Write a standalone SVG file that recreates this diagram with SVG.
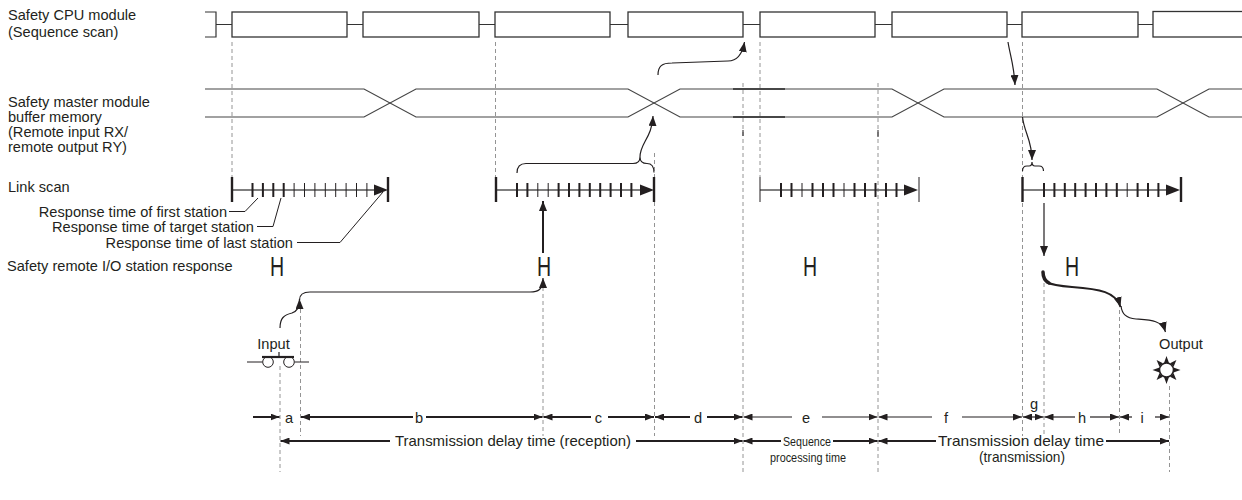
<svg xmlns="http://www.w3.org/2000/svg" width="1242" height="500" viewBox="0 0 1242 500">
<defs>
<style>
text{font-family:"Liberation Sans",Arial,sans-serif;font-size:14.6px;fill:#231f20}
.sm{font-size:13px}
.box{fill:#fff;stroke:#333;stroke-width:1.3}
.ln{fill:none;stroke:#333;stroke-width:1.2}
.bf{fill:none;stroke:#444;stroke-width:1.2}
.dash{fill:none;stroke:#888;stroke-width:0.9;stroke-dasharray:4 3}
.tk{stroke:#231f20;stroke-width:2}
.tn{stroke:#231f20;stroke-width:1}
.big{stroke:#231f20;stroke-width:2.4}
.lsl{stroke:#555;stroke-width:1.3}
.ar{fill:none;stroke:#231f20;stroke-width:1.2}
.arT{fill:none;stroke:#231f20;stroke-width:2}
.dim{fill:none;stroke:#231f20;stroke-width:2}
.dimt{fill:none;stroke:#231f20;stroke-width:1.2}
.lead{fill:none;stroke:#231f20;stroke-width:1}
.hd{fill:#231f20}
.bt{font-size:14.5px}
</style>
<marker id="ah" markerUnits="userSpaceOnUse" markerWidth="10" markerHeight="8" refX="10" refY="4" orient="auto"><path d="M0,0 L10,4 L0,8 z" fill="#231f20"/></marker>
<marker id="dm" markerUnits="userSpaceOnUse" markerWidth="9" markerHeight="7" refX="9" refY="3.5" orient="auto-start-reverse"><path d="M0,0 L9,3.5 L0,7 z" fill="#231f20"/></marker>
</defs>
<rect width="1242" height="500" fill="#fff"/>

<g id="labels">
<text x="8" y="20.3">Safety CPU module</text>
<text x="8" y="36.5">(Sequence scan)</text>
<text x="8" y="107">Safety master module</text>
<text x="8" y="122">buffer memory</text>
<text x="8" y="137">(Remote input RX/</text>
<text x="8" y="152">remote output RY)</text>
<text x="8" y="192">Link scan</text>
<text x="227" y="216.5" text-anchor="end">Response time of first station</text>
<text x="254" y="231.5" text-anchor="end">Response time of target station</text>
<text x="293" y="247.5" text-anchor="end">Response time of last station</text>
<text x="7" y="271">Safety remote I/O station response</text>
</g>

<g id="dashed-guides">
<line class="dash" x1="232" y1="42" x2="232" y2="177"/>
<line class="dash" x1="495.5" y1="42" x2="495.5" y2="177"/>
<line class="dash" x1="760" y1="42" x2="760" y2="177"/>
<line class="dash" x1="1022.5" y1="42" x2="1022.5" y2="436"/>
<line class="dash" x1="743" y1="83" x2="743" y2="472"/>
<line class="dash" x1="878" y1="83" x2="878" y2="472"/>
<line class="dash" x1="654.5" y1="153" x2="654.5" y2="436"/>
<line class="dash" x1="543" y1="280" x2="543" y2="436"/>
<line class="dash" x1="300.5" y1="302" x2="300.5" y2="436"/>
<line class="dash" x1="280" y1="366" x2="280" y2="472"/>
<line class="dash" x1="1044" y1="283" x2="1044" y2="436"/>
<line class="dash" x1="1119.5" y1="310" x2="1119.5" y2="436"/>
<line class="dash" x1="1169.5" y1="386" x2="1169.5" y2="472"/>
<line x1="743" y1="130" x2="743" y2="136" stroke="#231f20" stroke-width="1"/>
<line x1="878" y1="130" x2="878" y2="137" stroke="#231f20" stroke-width="1"/>
</g>

<g id="cpu-scan">
<path class="ln" d="M205,12 H216 V37 H205 M216,24.5 H232 M347,24.5 H363 M479,24.5 H495 M610,24.5 H628 M743,24.5 H760 M875,24.5 H892 M1007,24.5 H1022 M1138,24.5 H1153"/>
<rect class="box" x="232" y="12" width="115" height="25"/>
<rect class="box" x="363" y="12" width="116" height="25"/>
<rect class="box" x="495" y="12" width="115" height="25"/>
<rect class="box" x="628" y="12" width="115" height="25"/>
<rect class="box" x="760" y="12" width="115" height="25"/>
<rect class="box" x="892" y="12" width="115" height="25"/>
<rect class="box" x="1022" y="12" width="116" height="25"/>
<rect class="box" x="1153" y="11.5" width="95" height="25.5"/>
</g>

<g id="buffer-memory">
<path class="bf" d="M205,89 H364 L416,117 H628 L680,89 H892 L944,117 H1157 L1209,89 H1242"/>
<path class="bf" d="M205,117 H364 L416,89 H628 L680,117 H892 L944,89 H1157 L1209,117 H1242"/>
<path d="M733,89 H785 M733,117 H785" stroke="#2a2a2a" stroke-width="1.5" fill="none"/>
</g>

<g id="link-scan-1">
<line class="lsl" x1="232" y1="190" x2="376" y2="190"/>
<line class="big" x1="232" y1="177" x2="232" y2="202"/>
<line class="big" x1="388" y1="177" x2="388" y2="202"/>
<path class="hd" d="M374,184.5 L388,190 L374,195.5 z"/>
<g class="tk"><line x1="252.5" y1="183" x2="252.5" y2="197"/><line x1="262.9" y1="183" x2="262.9" y2="197"/><line x1="273.3" y1="183" x2="273.3" y2="197"/><line x1="283.7" y1="183" x2="283.7" y2="197"/></g>
<g class="tn"><line x1="294.1" y1="183" x2="294.1" y2="197"/><line x1="304.5" y1="183" x2="304.5" y2="197"/><line x1="314.9" y1="183" x2="314.9" y2="197"/><line x1="325.3" y1="183" x2="325.3" y2="197"/><line x1="335.7" y1="183" x2="335.7" y2="197"/><line x1="346.1" y1="183" x2="346.1" y2="197"/><line x1="356.5" y1="183" x2="356.5" y2="197"/><line x1="366.9" y1="183" x2="366.9" y2="197"/></g>
<path class="lead" d="M229,211.5 H245 L258,198 M257,226.5 H273 L281,198 M297,242.5 H340 L383,192"/>
</g>

<g id="link-scan-2">
<line class="lsl" x1="496" y1="190" x2="642" y2="190"/>
<line class="big" x1="496" y1="177" x2="496" y2="202"/>
<line class="big" x1="654" y1="177" x2="654" y2="202"/>
<path class="hd" d="M640,184.5 L654,190 L640,195.5 z"/>
<g class="tk"><line x1="517" y1="183" x2="517" y2="197"/><line x1="527.4" y1="183" x2="527.4" y2="197"/><line x1="558.6" y1="183" x2="558.6" y2="197"/><line x1="569" y1="183" x2="569" y2="197"/><line x1="579.4" y1="183" x2="579.4" y2="197"/><line x1="589.8" y1="183" x2="589.8" y2="197"/><line x1="600.2" y1="183" x2="600.2" y2="197"/><line x1="610.6" y1="183" x2="610.6" y2="197"/><line x1="621" y1="183" x2="621" y2="197"/><line x1="631.4" y1="183" x2="631.4" y2="197"/></g>
<g class="tn"><line x1="537.8" y1="183" x2="537.8" y2="197"/><line x1="548.2" y1="183" x2="548.2" y2="197"/></g>
</g>

<g id="link-scan-3">
<line class="lsl" x1="760" y1="190" x2="906" y2="190"/>
<line class="tn" x1="760" y1="177" x2="760" y2="202"/>
<line class="tn" x1="919" y1="177" x2="919" y2="202"/>
<path class="hd" d="M904,184.5 L918,190 L904,195.5 z"/>
<g class="tk"><line x1="781" y1="183" x2="781" y2="197"/><line x1="791.5" y1="183" x2="791.5" y2="197"/><line x1="812.5" y1="183" x2="812.5" y2="197"/><line x1="823" y1="183" x2="823" y2="197"/><line x1="833.5" y1="183" x2="833.5" y2="197"/><line x1="854.5" y1="183" x2="854.5" y2="197"/><line x1="865" y1="183" x2="865" y2="197"/><line x1="875.5" y1="183" x2="875.5" y2="197"/><line x1="886" y1="183" x2="886" y2="197"/><line x1="896.5" y1="183" x2="896.5" y2="197"/></g>
<g class="tn"><line x1="802" y1="183" x2="802" y2="197"/><line x1="844" y1="183" x2="844" y2="197"/></g>
</g>

<g id="link-scan-4">
<line class="lsl" x1="1022" y1="190" x2="1168" y2="190"/>
<line class="big" x1="1022.5" y1="177" x2="1022.5" y2="202"/>
<line class="big" x1="1181" y1="177" x2="1181" y2="202"/>
<path class="hd" d="M1166,184.5 L1180,190 L1166,195.5 z"/>
<g class="tk"><line x1="1044" y1="183" x2="1044" y2="197"/><line x1="1054.4" y1="183" x2="1054.4" y2="197"/><line x1="1064.8" y1="183" x2="1064.8" y2="197"/><line x1="1075.2" y1="183" x2="1075.2" y2="197"/><line x1="1085.6" y1="183" x2="1085.6" y2="197"/><line x1="1096" y1="183" x2="1096" y2="197"/><line x1="1106.4" y1="183" x2="1106.4" y2="197"/><line x1="1116.8" y1="183" x2="1116.8" y2="197"/><line x1="1137.6" y1="183" x2="1137.6" y2="197"/><line x1="1148" y1="183" x2="1148" y2="197"/><line x1="1158.4" y1="183" x2="1158.4" y2="197"/></g>
<g class="tn"><line x1="1127.2" y1="183" x2="1127.2" y2="197"/></g>
</g>

<g id="station-responses">
<text transform="translate(277,276) scale(0.7,1)" text-anchor="middle" style="font-size:28px">H</text>
<text transform="translate(544,276) scale(0.7,1)" text-anchor="middle" style="font-size:28px">H</text>
<text transform="translate(810,276) scale(0.7,1)" text-anchor="middle" style="font-size:28px">H</text>
<text transform="translate(1072,276) scale(0.7,1)" text-anchor="middle" style="font-size:28px">H</text>
</g>

<g id="input">
<text x="273.5" y="348.5" text-anchor="middle">Input</text>
<path class="lead" d="M247,362 H262.5 M294.5,362 H309"/>
<circle cx="268" cy="362" r="5.3" fill="#fff" stroke="#231f20" stroke-width="1"/>
<circle cx="289" cy="362" r="5.3" fill="#fff" stroke="#231f20" stroke-width="1"/>
<path d="M262,357 H294" stroke="#231f20" stroke-width="2.2"/>
<path d="M279,352 V357" stroke="#231f20" stroke-width="1.2"/>
</g>

<g id="output">
<text x="1181" y="349" text-anchor="middle">Output</text>
<g fill="#231f20">
<path d="M1166.5,356 L1164,363 L1169,363 z"/>
<path d="M1166.5,384 L1164,377 L1169,377 z"/>
<path d="M1152.5,370 L1159.5,367.5 L1159.5,372.5 z"/>
<path d="M1180.5,370 L1173.5,367.5 L1173.5,372.5 z"/>
<path d="M1156.6,360.1 L1159.4,366.7 L1162.9,363.2 z"/>
<path d="M1176.4,360.1 L1173.6,366.7 L1170.1,363.2 z"/>
<path d="M1156.6,379.9 L1159.4,373.3 L1162.9,376.8 z"/>
<path d="M1176.4,379.9 L1173.6,373.3 L1170.1,376.8 z"/>
</g>
<circle cx="1166.5" cy="370" r="7" fill="#fff" stroke="#231f20" stroke-width="1.6"/>
</g>

<g id="connectors">
<path class="ar" d="M517,173 Q517,163.5 526,163.5 H633 Q640,163.5 640,157 Q640,163.5 647,163.5 Q654,163.5 654,172.5"/>
<path class="ar" marker-end="url(#ah)" d="M640,157 C640,143 652,138 653,116"/>
<path class="ar" marker-end="url(#ah)" d="M658,75 C658,66 662,63 672,63 L728,61 C736,61 742,56 744.5,42"/>
<path class="ar" marker-end="url(#ah)" d="M1008,42 C1010,55 1014,65 1015,85"/>
<path class="ar" marker-end="url(#ah)" d="M1022.5,117 C1024,132 1032,140 1032,160"/>
<path class="ar" d="M1022.5,171 Q1022.5,166 1027,166 H1029 Q1032,166 1032,162 Q1032,166 1035,166 H1039 Q1043.5,166 1043.5,171"/>
<path class="arT" marker-end="url(#ah)" d="M543,253 V201"/>
<path class="ar" marker-end="url(#ah)" d="M1044,203 V256"/>
<path class="ar" marker-end="url(#ah)" d="M280,328 C280,318 284,315 292,313 C297,311 299.5,308 299.5,299"/>
<path class="ar" marker-end="url(#ah)" d="M299.5,300 C299.5,294 303,292 310,292 H530 C538,292 543,290 543,278"/>
<path d="M1043,272 C1043,278 1045,281 1049,283" stroke="#231f20" stroke-width="3.5" fill="none" stroke-linecap="round"/>
<path class="arT" marker-end="url(#ah)" d="M1046,282 C1052,285 1060,286 1072,287 C1100,289 1116,292 1120.5,307"/>
<path class="ar" marker-end="url(#ah)" d="M1121,306 C1122,314 1126,318 1136,319 C1150,320 1162,320 1165.5,332"/>
</g>

<g id="dimensions">
<line class="dim" marker-end="url(#dm)" x1="253" y1="417" x2="279.5" y2="417"/>
<text x="289" y="422.5" text-anchor="middle">a</text>
<line class="dim" marker-start="url(#dm)" x1="301" y1="417" x2="413" y2="417"/>
<line class="dim" marker-end="url(#dm)" x1="426" y1="417" x2="542.5" y2="417"/>
<text x="419" y="422.5" text-anchor="middle">b</text>
<line class="dim" marker-start="url(#dm)" x1="543.5" y1="417" x2="591" y2="417"/>
<line class="dim" marker-end="url(#dm)" x1="608" y1="417" x2="654" y2="417"/>
<text x="598.5" y="422.5" text-anchor="middle">c</text>
<line class="dim" marker-start="url(#dm)" x1="655" y1="417" x2="690" y2="417"/>
<line class="dim" marker-end="url(#dm)" x1="707" y1="417" x2="742.5" y2="417"/>
<text x="698" y="422.5" text-anchor="middle">d</text>
<line class="dimt" marker-start="url(#dm)" x1="743.5" y1="417" x2="792" y2="417"/>
<line class="dimt" marker-end="url(#dm)" x1="822" y1="417" x2="877.5" y2="417"/>
<text x="806" y="422.5" text-anchor="middle">e</text>
<line class="dimt" marker-start="url(#dm)" x1="878.5" y1="417" x2="932" y2="417"/>
<line class="dimt" marker-end="url(#dm)" x1="962" y1="417" x2="1022" y2="417"/>
<text x="946" y="422.5" text-anchor="middle">f</text>
<line class="dimt" marker-start="url(#dm)" marker-end="url(#dm)" x1="1023" y1="417" x2="1043.5" y2="417"/>
<text x="1034" y="409" text-anchor="middle">g</text>
<line class="dimt" marker-start="url(#dm)" x1="1044.5" y1="417" x2="1075" y2="417"/>
<line class="dimt" marker-end="url(#dm)" x1="1090" y1="417" x2="1119" y2="417"/>
<text x="1082" y="422.5" text-anchor="middle">h</text>
<line class="dimt" marker-start="url(#dm)" x1="1120" y1="417" x2="1132" y2="417"/>
<line class="dimt" marker-end="url(#dm)" x1="1155" y1="417" x2="1169" y2="417"/>
<text x="1142" y="422.5" text-anchor="middle">i</text>
</g>

<g id="totals">
<line class="dim" marker-start="url(#dm)" x1="280.5" y1="441" x2="390" y2="441"/>
<line class="dim" marker-end="url(#dm)" x1="636" y1="441" x2="742.5" y2="441"/>
<text class="bt" x="513" y="446" text-anchor="middle" textLength="236" lengthAdjust="spacingAndGlyphs">Transmission delay time (reception)</text>
<line class="dim" marker-start="url(#dm)" x1="743.5" y1="441" x2="781" y2="441"/>
<line class="dim" marker-end="url(#dm)" x1="833" y1="441" x2="877.5" y2="441"/>
<text class="sm" x="807" y="445.5" text-anchor="middle" textLength="48" lengthAdjust="spacingAndGlyphs">Sequence</text>
<text class="sm" x="808" y="462" text-anchor="middle" textLength="76" lengthAdjust="spacingAndGlyphs">processing time</text>
<line class="dim" marker-start="url(#dm)" x1="878.5" y1="441" x2="936" y2="441"/>
<line class="dim" marker-end="url(#dm)" x1="1106" y1="441" x2="1169" y2="441"/>
<text class="bt" x="1021" y="446" text-anchor="middle" textLength="166" lengthAdjust="spacingAndGlyphs">Transmission delay time</text>
<text class="bt" x="1022" y="462" text-anchor="middle" textLength="86" lengthAdjust="spacingAndGlyphs">(transmission)</text>
</g>
</svg>
